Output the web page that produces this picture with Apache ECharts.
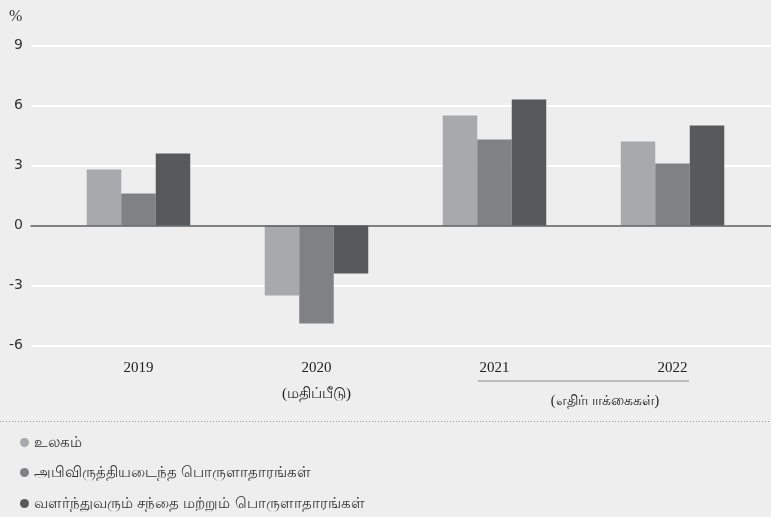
<!DOCTYPE html>
<html>
<head>
<meta charset="utf-8">
<script src="https://cdn.jsdelivr.net/npm/echarts@6/dist/echarts.min.js"></script>
<style>
  html, body { margin: 0; padding: 0; background: #eeeeee; }
  #chart { width: 771px; height: 517px; }
</style>
</head>
<body>
<div id="chart"></div>
<script>
// 年份类目
const years = ['2019', '2020\n(மதிப்பீடு)', '2021', '2022']
const seriesNames = ['உலகம்', 'அபிவிருத்தியடைந்த பொருளாதாரங்கள்', 'வளர்ந்துவரும் சந்தை மற்றும் பொருளாதாரங்கள்']
const world = [2.8, -3.5, 5.5, 4.2]
const advanced = [1.6, -4.9, 4.3, 3.1]
const emerging = [3.6, -2.4, 6.3, 5.0]
const colors = ['#a8a9ac', '#808184', '#58595b']
const yMin = -6, yMax = 9, yStep = 3
const forecastNote = '(எதிர்பாக்கைகள்)'

let myChart = echarts.init(document.getElementById('chart'))

const bar = (name, data, i) => ({
  name: name,
  type: 'bar',
  xAxisIndex: 1,
  yAxisIndex: 1,
  data: data,
  barWidth: 34.5,
  barGap: '0%',
  itemStyle: {color: colors[i]},
  z: 3,
})

// 每个图例单独一行
const legendAt = (i, top) => ({
  orient: 'vertical',
  left: 15,
  top: top,
  icon: 'circle',
  itemWidth: 9,
  itemHeight: 9,
  textStyle: {fontSize: 15, color: '#333', lineHeight: 17},
  data: [seriesNames[i]],
})

myChart.setOption({
  backgroundColor: '#eeeeee',
  animation: false,
  grid: [
    {left: 31, right: 0, top: 45.5, bottom: 171.5},  // 背景网格线
    {left: 49.5, right: 9.5, top: 45.5, bottom: 171.5}, // 柱子
  ],
  xAxis: [
    {
      gridIndex: 0,
      type: 'category',
      data: [''],
      axisLine: {onZero: true, lineStyle: {color: '#58595b', width: 1.5}},
      axisTick: {show: false},
      axisLabel: {show: false},
      z: 5,
    },
    {
      gridIndex: 1,
      type: 'category',
      data: years,
      axisLine: {show: false},
      axisTick: {show: false},
      axisLabel: {
        margin: 10,
        fontFamily: 'Liberation Serif, serif',
        fontSize: 15,
        lineHeight: 26,
        color: '#222',
        verticalAlign: 'top',
      },
    },
  ],
  yAxis: [
    {
      gridIndex: 0,
      type: 'value',
      min: yMin,
      max: yMax,
      interval: yStep,
      axisLine: {show: false},
      axisTick: {show: false},
      axisLabel: {margin: 8, fontSize: 14, color: '#333', fontFamily: 'DejaVu Sans, sans-serif'},
      splitLine: {lineStyle: {color: '#ffffff', width: 2}},
    },
    {
      gridIndex: 1,
      type: 'value',
      min: yMin,
      max: yMax,
      interval: yStep,
      show: false,
      splitLine: {show: false},
    },
  ],
  legend: [
    legendAt(0, 429),
    legendAt(1, 459),
    legendAt(2, 490),
  ],
  graphic: [
    {type: 'text', left: 9, top: 9, style: {text: '%', fontSize: 16, fill: '#333', fontFamily: 'Liberation Serif, serif'}},
    {type: 'line', shape: {x1: 478, y1: 381, x2: 689, y2: 381}, style: {stroke: '#bbbbbb', lineWidth: 2}},
    {type: 'text', x: 605, y: 401, style: {text: forecastNote, fontSize: 14, fill: '#222', align: 'center', verticalAlign: 'middle', fontFamily: 'Liberation Serif, serif'}},
    {type: 'line', shape: {x1: 0, y1: 421.5, x2: 771, y2: 421.5}, style: {stroke: '#999999', lineWidth: 1, lineDash: [1, 2]}},
  ],
  series: [
    bar(seriesNames[0], world, 0),
    bar(seriesNames[1], advanced, 1),
    bar(seriesNames[2], emerging, 2),
  ],
})
window.addEventListener('resize', () => myChart.resize())
</script>
</body>
</html>
